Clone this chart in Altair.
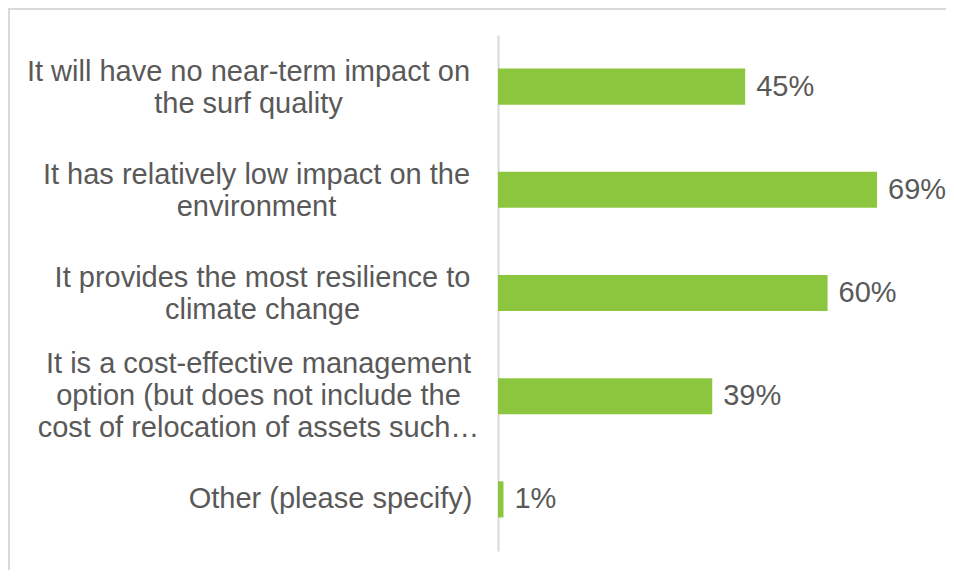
import altair as alt
import pandas as pd

categories = [
    "It will have no near-term impact on|the surf quality",
    "It has relatively low impact on the|environment",
    "It provides the most resilience to|climate change",
    "It is a cost-effective management|option (but does not include the|cost of relocation of assets such…",
    "Other (please specify)",
]
values = [45, 69, 60, 39, 1]

df = pd.DataFrame({"cat": categories, "v": values})

GREEN = "#8CC63F"
TEXT = "#595959"
LINE = "#D9D9D9"
FONT = "Liberation Sans"

nlines = "length(split(datum.value, '|'))"

bars = alt.Chart(df).mark_bar(color=GREEN).encode(
    x=alt.X("v:Q", scale=alt.Scale(domain=[0, 75], nice=False, zero=True), axis=None),
    y=alt.Y(
        "cat:N",
        sort=None,
        scale=alt.Scale(paddingInner=0.65, paddingOuter=0.325),
        axis=alt.Axis(
            title=None,
            ticks=False,
            domain=True,
            domainColor=LINE,
            domainWidth=2,
            labelAlign="center",
            labelBaseline="middle",
            labelPadding={
                "condition": [
                    {"test": f"datum.value === '{categories[4]}'", "value": 168},
                    {"test": f"datum.value === '{categories[0]}'", "value": 250},
                    {"test": f"datum.value === '{categories[1]}'", "value": 242},
                    {"test": f"datum.value === '{categories[2]}'", "value": 236},
                ],
                "value": 240,
            },
            labelOffset={
                "condition": [
                    {"test": f"{nlines} == 3", "value": -32},
                    {"test": f"{nlines} == 2", "value": -15},
                ],
                "value": 0,
            },
            labelFont=FONT,
            labelFontSize=29,
            labelColor=TEXT,
            labelLineHeight=32,
            labelLimit=0,
            labelExpr="split(datum.label, '|')",
        ),
    ),
)

labels = alt.Chart(df).transform_calculate(lab="datum.v + '%'").mark_text(
    align="left", baseline="middle", dx=11, font=FONT, fontSize=29, color=TEXT
).encode(
    x=alt.X("v:Q"),
    y=alt.Y("cat:N", sort=None),
    text="lab:N",
)

frame_data = alt.Data(values=[{"a": 1}])
top_rule = alt.Chart(frame_data).mark_rule(color=LINE, strokeWidth=2).encode(
    x=alt.value(-490), x2=alt.value(460), y=alt.value(-26)
)
left_rule = alt.Chart(frame_data).mark_rule(color=LINE, strokeWidth=2).encode(
    x=alt.value(-489), y=alt.value(-26), y2=alt.value(540)
)

chart = alt.layer(bars, labels, top_rule, left_rule).properties(
    width=412,
    height=516,
    background="white",
    autosize=alt.AutoSizeParams(type="none"),
    padding={"left": 490, "top": 27, "right": 36, "bottom": 19},
).configure_view(strokeWidth=0, stroke="transparent")

chart.save("out.html", embed_options={"renderer": "svg", "actions": False})
